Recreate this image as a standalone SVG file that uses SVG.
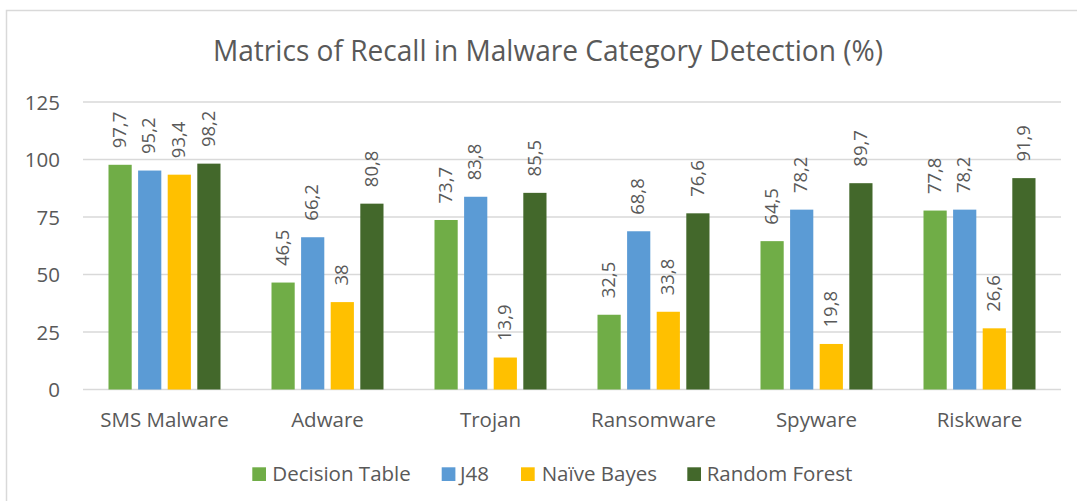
<svg xmlns="http://www.w3.org/2000/svg" width="1077" height="501" viewBox="0 0 1077 501">
<style>
text{font-family:"Open Sans",Lato,"Liberation Sans",sans-serif;fill:#595959}
.title{font-size:29px}
.ax{font-size:20.5px;text-anchor:end}
.cat{font-size:20.5px;text-anchor:middle}
.val{font-size:18.5px}
.leg{font-size:20.5px}
.grid{stroke:#D9D9D9;stroke-width:1.3;fill:none}
.dt{fill:#70AD47}.j48{fill:#5B9BD5}.nb{fill:#FFC000}.rf{fill:#43682B}
</style>
<rect x="0" y="0" width="1077" height="501" fill="#FFFFFF"/>
<rect x="6.5" y="10.5" width="1100" height="600" fill="none" stroke="#D9D9D9" stroke-width="1.5"/>
<text class="title" x="213" y="61" textLength="670" lengthAdjust="spacingAndGlyphs">Matrics of Recall in Malware Category Detection (%)</text>
<g id="axis">
<line class="grid" x1="83" y1="102" x2="1061" y2="102"/>
<line class="grid" x1="83" y1="159.5" x2="1061" y2="159.5"/>
<line class="grid" x1="83" y1="217" x2="1061" y2="217"/>
<line class="grid" x1="83" y1="274.5" x2="1061" y2="274.5"/>
<line class="grid" x1="83" y1="332" x2="1061" y2="332"/>
<line class="grid" x1="83" y1="389.5" x2="1061" y2="389.5"/>
<text class="ax" x="60" y="109.5">125</text>
<text class="ax" x="60" y="167">100</text>
<text class="ax" x="60" y="224.5">75</text>
<text class="ax" x="60" y="282">50</text>
<text class="ax" x="60" y="339.5">25</text>
<text class="ax" x="60" y="397">0</text>
</g>
<g id="sms">
<rect class="dt" x="108.5" y="164.79" width="23.2" height="224.71"/>
<rect class="j48" x="138.1" y="170.54" width="23.2" height="218.96"/>
<rect class="nb" x="167.7" y="174.68" width="23.2" height="214.82"/>
<rect class="rf" x="197.3" y="163.64" width="23.2" height="225.86"/>
<text class="val" transform="translate(125.8,148.3) rotate(-90)">97,7</text>
<text class="val" transform="translate(155.4,154.0) rotate(-90)">95,2</text>
<text class="val" transform="translate(185.0,158.2) rotate(-90)">93,4</text>
<text class="val" transform="translate(214.6,147.1) rotate(-90)">98,2</text>
<text class="cat" x="164.5" y="427">SMS Malware</text>
</g>
<g id="adware">
<rect class="dt" x="271.5" y="282.55" width="23.2" height="106.95"/>
<rect class="j48" x="301.1" y="237.24" width="23.2" height="152.26"/>
<rect class="nb" x="330.7" y="302.1" width="23.2" height="87.4"/>
<rect class="rf" x="360.3" y="203.66" width="23.2" height="185.84"/>
<text class="val" transform="translate(288.8,266.1) rotate(-90)">46,5</text>
<text class="val" transform="translate(318.4,220.7) rotate(-90)">66,2</text>
<text class="val" transform="translate(348.0,285.6) rotate(-90)">38</text>
<text class="val" transform="translate(377.6,187.2) rotate(-90)">80,8</text>
<text class="cat" x="327.5" y="427">Adware</text>
</g>
<g id="trojan">
<rect class="dt" x="434.5" y="219.99" width="23.2" height="169.51"/>
<rect class="j48" x="464.1" y="196.76" width="23.2" height="192.74"/>
<rect class="nb" x="493.7" y="357.53" width="23.2" height="31.97"/>
<rect class="rf" x="523.3" y="192.85" width="23.2" height="196.65"/>
<text class="val" transform="translate(451.8,203.5) rotate(-90)">73,7</text>
<text class="val" transform="translate(481.4,180.3) rotate(-90)">83,8</text>
<text class="val" transform="translate(511.0,341.0) rotate(-90)">13,9</text>
<text class="val" transform="translate(540.6,176.4) rotate(-90)">85,5</text>
<text class="cat" x="490.5" y="427">Trojan</text>
</g>
<g id="ransomware">
<rect class="dt" x="597.5" y="314.75" width="23.2" height="74.75"/>
<rect class="j48" x="627.1" y="231.26" width="23.2" height="158.24"/>
<rect class="nb" x="656.7" y="311.76" width="23.2" height="77.74"/>
<rect class="rf" x="686.3" y="213.32" width="23.2" height="176.18"/>
<text class="val" transform="translate(614.8,298.3) rotate(-90)">32,5</text>
<text class="val" transform="translate(644.4,214.8) rotate(-90)">68,8</text>
<text class="val" transform="translate(674.0,295.3) rotate(-90)">33,8</text>
<text class="val" transform="translate(703.6,196.8) rotate(-90)">76,6</text>
<text class="cat" x="653.5" y="427">Ransomware</text>
</g>
<g id="spyware">
<rect class="dt" x="760.5" y="241.15" width="23.2" height="148.35"/>
<rect class="j48" x="790.1" y="209.64" width="23.2" height="179.86"/>
<rect class="nb" x="819.7" y="343.96" width="23.2" height="45.54"/>
<rect class="rf" x="849.3" y="183.19" width="23.2" height="206.31"/>
<text class="val" transform="translate(777.8,224.7) rotate(-90)">64,5</text>
<text class="val" transform="translate(807.4,193.1) rotate(-90)">78,2</text>
<text class="val" transform="translate(837.0,327.5) rotate(-90)">19,8</text>
<text class="val" transform="translate(866.6,166.7) rotate(-90)">89,7</text>
<text class="cat" x="816.5" y="427">Spyware</text>
</g>
<g id="riskware">
<rect class="dt" x="923.5" y="210.56" width="23.2" height="178.94"/>
<rect class="j48" x="953.1" y="209.64" width="23.2" height="179.86"/>
<rect class="nb" x="982.7" y="328.32" width="23.2" height="61.18"/>
<rect class="rf" x="1012.3" y="178.13" width="23.2" height="211.37"/>
<text class="val" transform="translate(940.8,194.1) rotate(-90)">77,8</text>
<text class="val" transform="translate(970.4,193.1) rotate(-90)">78,2</text>
<text class="val" transform="translate(1000.0,311.8) rotate(-90)">26,6</text>
<text class="val" transform="translate(1029.6,161.6) rotate(-90)">91,9</text>
<text class="cat" x="979.5" y="427">Riskware</text>
</g>
<g id="legend">
<rect class="dt" x="252.3" y="467.3" width="13.7" height="13.7"/>
<text class="leg" x="272.3" y="481">Decision Table</text>
<rect class="j48" x="441.7" y="467.3" width="13.7" height="13.7"/>
<text class="leg" x="460" y="481">J48</text>
<rect class="nb" x="521" y="467.3" width="13.7" height="13.7"/>
<text class="leg" x="541.7" y="481">Naïve Bayes</text>
<rect class="rf" x="687.3" y="467.3" width="13.7" height="13.7"/>
<text class="leg" x="706.7" y="481">Random Forest</text>
</g>
<g id="connectors"></g>
</svg>
